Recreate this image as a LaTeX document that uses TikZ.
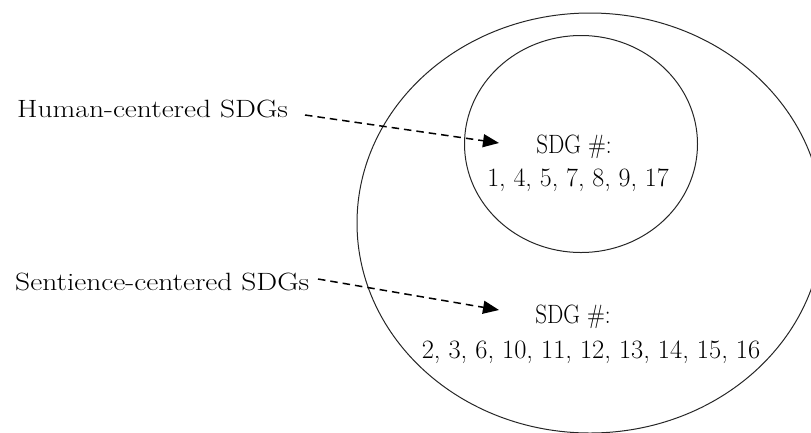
\documentclass[tikz,border=0pt]{standalone}
\usetikzlibrary{arrows.meta}
\newcommand\widetext[2]{\scalebox{#1}[1]{#2}}
\tikzset{
  lbl/.style={inner sep=0pt, font=\fontsize{25}{30}\selectfont},
  inset/.style={inner sep=0pt, font=\fontsize{26.5}{32}\selectfont},
  ring/.style={draw=black!85, line width=1pt},
  dasharrow/.style={line width=1.5pt, dash pattern=on 7.5pt off 5pt,
    -{Triangle[length=16pt, width=13pt]}}
}
\begin{document}
\begin{tikzpicture}[x=1pt, y=-1pt]
  \useasboundingbox (0,0) rectangle (811,432);

  % sets
  \draw[ring] (590,223) ellipse [x radius=233, y radius=210];
  \draw[ring] (581,144) ellipse [x radius=116.5, y radius=108.5];

  % labels on the left
  \node[lbl, anchor=base west] (hum) at (17,117) {\widetext{1.18}{Human-centered SDGs}};
  \node[lbl, anchor=base west] (sen) at (15,290) {\widetext{1.18}{Sentience-centered SDGs}};

  % contents of the sets
  \node[inset, anchor=base] (sdgA) at (574,153) {\widetext{0.87}{SDG \#:}};
  \node[inset, anchor=base] (numA) at (578,186) {\widetext{0.98}{1, 4, 5, 7, 8, 9, 17}};
  \node[inset, anchor=base] (sdgB) at (573,323) {\widetext{0.87}{SDG \#:}};
  \node[inset, anchor=base] (numB) at (591,358) {\widetext{1.0}{2, 3, 6, 10, 11, 12, 13, 14, 15, 16}};

  % arrow end points
  \coordinate (hA) at (305,115);
  \coordinate (tA) at (499,143);
  \coordinate (hB) at (318,279);
  \coordinate (tB) at (499,310);

  \draw[dasharrow] (hA) -- (tA);
  \draw[dasharrow] (hB) -- (tB);
\end{tikzpicture}
\end{document}
